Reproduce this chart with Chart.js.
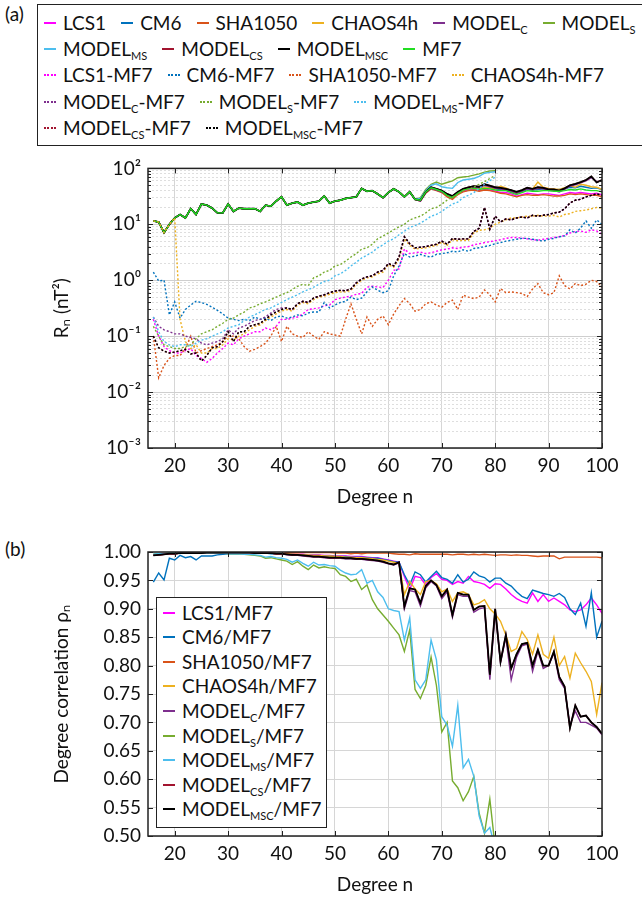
<!DOCTYPE html>
<html>
<head>
<meta charset="utf-8">
<title>Degree spectra and degree correlation</title>
<script src="https://cdn.jsdelivr.net/npm/chart.js@4.4.1/dist/chart.umd.min.js"></script>
<style>
  html, body { margin: 0; padding: 0; background: #fff; }
  body { width: 642px; height: 898px; position: relative; overflow: hidden; font-family: Lato, 'Noto Sans', sans-serif; color: #111; }
  .tag { position: absolute; left: 5px; font-size: 19px; }
  canvas { position: absolute; left: 0; }
  #legendA { position: absolute; left: 37px; top: 4px; width: 640px; height: 142px; border: 1.5px solid #222; box-sizing: border-box; font-size: 19px; }
  #legendA .row { position: absolute; left: 6px; display: flex; gap: 15px; white-space: nowrap; }
  #legendB { position: absolute; left: 156px; top: 597px; width: 171px; height: 231px; border: 1.5px solid #222; box-sizing: border-box; background: #fff; font-size: 19px; }
  #legendB .item { position: absolute; left: 6px; }
  .item { display: flex; align-items: center; line-height: 24px; }
  .swatch { width: 12px; height: 0; border-top: 2px solid; margin-right: 7px; }
  .dots { border-top-style: dotted; }
  .txt sub { font-size: 58%; vertical-align: -0.4em; line-height: 0; }
</style>
</head>
<body>
<div class="tag" style="top:2px">(a)</div>
<div id="legendA"></div>
<canvas id="spectra" width="642" height="360" style="top:150px"></canvas>
<div class="tag" style="top:537px">(b)</div>
<canvas id="correlation" width="642" height="368" style="top:530px"></canvas>
<div id="legendB"></div>
<script>
// degrees n = 16 ... 100
const firstDegree = 16;
const degreeTicks = [20, 30, 40, 50, 60, 70, 80, 90, 100];
const decadeExps = [-3, -2, -1, 0, 1, 2];
const decadeLabels = ['10\u207B\u00B3', '10\u207B\u00B2', '10\u207B\u00B9', '10\u2070', '10\u00B9', '10\u00B2'];
const corrTicks = [0.5, 0.55, 0.6, 0.65, 0.7, 0.75, 0.8, 0.85, 0.9, 0.95, 1.0];

const modelNames = [['LCS1', ''], ['CM6', ''], ['SHA1050', ''], ['CHAOS4h', ''], ['MODEL', 'C'],
  ['MODEL', 'S'], ['MODEL', 'MS'], ['MODEL', 'CS'], ['MODEL', 'MSC'], ['MF7', '']];
const modelColors = ['#ff00ff', '#0072bd', '#d95319', '#edb120', '#7e2f8e',
  '#77ac30', '#4dbeee', '#a2142f', '#000000', '#22dd22'];

// (a) R_n, solid curves: shared part n=16..65
const powerHead = [11.5, 11, 7.1, 10, 13, 15, 13, 19, 15, 23,
  22, 19.5, 16, 16, 23, 17, 19.5, 19, 19, 19,
  17, 22, 21, 26, 31, 22, 24, 25, 22, 24,
  25, 26, 32, 24, 26, 27, 29, 30, 31, 44,
  39, 40, 35, 30, 37, 43, 38, 31, 38, 28];
// n=66..100
const powerTailLcs1 = [27, 37, 44, 41, 38, 32, 29, 35, 39, 41, 42, 40, 42, 41, 39, 37, 37, 35, 32, 34,
  36, 35, 34, 35, 35, 34, 33, 35, 37, 36, 37, 36, 35, 36, 34];
const powerTailCm6 = [28, 38, 46, 43, 40, 34, 31, 37, 42, 44, 46, 44, 46, 45, 43, 42, 41, 39, 36, 39,
  42, 41, 42, 43, 42, 41, 42, 43, 46, 45, 48, 46, 44, 45, 42];
const powerTailSha = [26, 36, 43, 40, 37, 31, 28, 34, 38, 40, 41, 39, 41, 40, 38, 36, 35, 33, 31, 33,
  34, 33, 33, 34, 33, 32, 32, 33, 35, 34, 35, 34, 33, 33, 31];
const powerTailChaos = [27, 38, 46, 43, 40, 34, 31, 37, 42, 45, 46, 43, 46, 45, 43, 48, 45, 40, 36, 40,
  45, 43, 57, 46, 44, 43, 42, 45, 49, 46, 52, 50, 47, 46, 42];
const powerTailC = [26, 37, 44, 41, 38, 34, 31, 36, 41, 44, 46, 45, 50, 47, 44, 43, 41, 39, 36, 39,
  43, 41, 44, 43, 40, 40, 38, 42, 48, 51, 55, 60, 68, 58, 60];
const powerTailS = [30, 42, 52, 57, 52, 56, 60, 68, 70, 72, 76, 80, 86, 90, 91];
const powerTailMs = [29, 40, 50, 53, 47, 45, 44, 56, 62, 64, 66, 72, 82, 85, 87];
const powerTailMsc = [27, 38, 46, 43, 40, 35, 32, 38, 43, 46, 48, 47, 52, 49, 46, 45, 43, 41, 38, 41,
  45, 43, 46, 45, 42, 42, 40, 44, 50, 53, 57, 62, 72, 56, 62];
const powerTailMf7 = [27, 38, 45, 42, 39, 33, 30, 36, 41, 43, 44, 42, 44, 43, 41, 40, 40, 37, 34, 37,
  40, 39, 39, 40, 40, 39, 39, 40, 42, 41, 43, 41, 40, 40, 38];

// (a) differences to MF7, n=16..100
const diffLcs1 = [0.2, 0.1, 0.065, 0.055, 0.05, 0.05, 0.055, 0.06, 0.045, 0.04,
  0.034, 0.04, 0.05, 0.06, 0.075, 0.07, 0.09, 0.1, 0.11, 0.12,
  0.12, 0.14, 0.13, 0.15, 0.2, 0.2, 0.21, 0.22, 0.25, 0.3,
  0.31, 0.32, 0.35, 0.36, 0.45, 0.48, 0.5, 0.52, 0.56, 0.58,
  0.75, 0.78, 0.76, 0.74, 1.0, 1.5, 1.6, 3.6, 3.0, 3.1,
  3.2, 3.0, 3.1, 3.3, 3.5, 3.6, 3.8, 3.7, 3.9, 4.0,
  4.3, 4.5, 4.7, 4.9, 5.1, 5.3, 5.6, 5.8, 5.8, 5.7,
  5.5, 5.3, 5.2, 5.4, 5.6, 5.8, 6.0, 6.3, 7.0, 7.4,
  7.6, 7.2, 8.0, 7.6, 6.6];
const diffCm6 = [1.4, 0.97, 1.0, 0.24, 0.41, 0.21, 0.3, 0.36, 0.42, 0.4,
  0.37, 0.33, 0.29, 0.25, 0.21, 0.2, 0.19, 0.2, 0.19, 0.22,
  0.2, 0.21, 0.19, 0.22, 0.23, 0.21, 0.22, 0.24, 0.23, 0.26,
  0.27, 0.27, 0.4, 0.32, 0.36, 0.4, 0.42, 0.5, 0.45, 0.48,
  0.62, 0.76, 0.66, 0.6, 0.65, 1.2, 1.8, 3.0, 2.6, 2.7,
  2.9, 2.7, 2.6, 2.9, 3.0, 3.1, 3.3, 3.2, 3.5, 3.3,
  3.7, 3.8, 4.0, 4.2, 4.5, 4.7, 5.0, 5.2, 5.4, 5.6,
  5.6, 5.4, 5.2, 5.0, 5.4, 5.6, 6.0, 6.2, 8.0, 7.0,
  8.6, 11.5, 8.5, 12.0, 10.0];
const diffSha = [0.1, 0.018, 0.03, 0.04, 0.045, 0.045, 0.06, 0.1, 0.05, 0.055,
  0.06, 0.065, 0.07, 0.08, 0.1, 0.1, 0.09, 0.065, 0.054, 0.058,
  0.065, 0.075, 0.1, 0.15, 0.08, 0.15, 0.11, 0.1, 0.095, 0.12,
  0.1, 0.088, 0.12, 0.11, 0.105, 0.1, 0.2, 0.38, 0.2, 0.11,
  0.22, 0.15, 0.2, 0.23, 0.16, 0.25, 0.35, 0.47, 0.38, 0.28,
  0.3, 0.38, 0.41, 0.36, 0.33, 0.4, 0.44, 0.3, 0.54, 0.5,
  0.47, 0.5, 0.67, 0.55, 0.41, 0.71, 0.6, 0.62, 0.6, 0.58,
  0.51, 0.7, 0.87, 0.6, 0.55, 0.6, 1.2, 0.8, 0.7, 0.87,
  0.8, 0.85, 1.0, 0.95, 0.75];
const diffChaos = [11.5, 11, 7.1, 10, 13, 0.2, 0.08, 0.06, 0.07, 0.05,
  0.05, 0.06, 0.06, 0.07, 0.09, 0.085, 0.1, 0.11, 0.13, 0.15,
  0.16, 0.19, 0.22, 0.25, 0.28, 0.3, 0.28, 0.36, 0.4, 0.38,
  0.45, 0.5, 0.52, 0.56, 0.6, 0.62, 0.62, 0.66, 0.85, 1.0,
  1.1, 1.15, 1.3, 1.4, 1.9, 1.7, 2.4, 5.5, 4.2, 3.6,
  3.7, 3.8, 4.0, 4.2, 4.8, 4.2, 5.3, 5.1, 5.2, 5.2,
  7.0, 7.8, 8.0, 8.5, 10, 11, 12, 13, 13, 13.5,
  14, 14, 14.5, 14, 14, 14.5, 13.5, 15, 15.5, 17,
  17.5, 18, 19, 20, 19.5];
const diffHeadC = [0.22, 0.15, 0.13, 0.12, 0.11, 0.11, 0.1, 0.095, 0.09, 0.075,
  0.07, 0.075, 0.08, 0.09, 0.13, 0.11, 0.14, 0.15, 0.17, 0.19,
  0.2, 0.22, 0.26, 0.3, 0.32];
const diffHeadMsc = [0.1, 0.062, 0.054, 0.05, 0.052, 0.055, 0.058, 0.048, 0.05, 0.036,
  0.045, 0.062, 0.065, 0.08, 0.12, 0.08, 0.12, 0.12, 0.15, 0.16,
  0.17, 0.2, 0.24, 0.27, 0.3];
// n=41..100, shared by MODEL_C, MODEL_CS, MODEL_MSC
const diffTailMsc = [0.32, 0.3, 0.38, 0.42, 0.4, 0.48, 0.52, 0.55, 0.6, 0.64,
  0.66, 0.65, 0.7, 0.9, 1.05, 1.15, 1.2, 1.4, 1.5, 2.0,
  1.8, 2.6, 6.0, 4.5, 3.8, 3.9, 4.0, 4.2, 4.4, 5.0,
  4.4, 5.6, 5.4, 5.5, 5.5, 7.5, 8.5, 20, 8.2, 14,
  11, 12.5, 12, 13, 13.5, 13, 14.5, 14, 14.5, 15,
  16, 16.5, 19, 24, 27, 28, 31, 33, 35, 33];
// n=16..80
const diffS = [0.15, 0.1, 0.07, 0.065, 0.06, 0.06, 0.065, 0.07, 0.09, 0.11,
  0.12, 0.13, 0.15, 0.17, 0.2, 0.21, 0.24, 0.27, 0.32, 0.34,
  0.38, 0.41, 0.45, 0.5, 0.55, 0.6, 0.68, 0.78, 0.85, 0.8,
  1.1, 1.2, 1.4, 1.5, 1.8, 1.9, 2.2, 2.6, 3.0, 3.6,
  3.8, 4.4, 5.5, 6.2, 7.0, 8.0, 9.0, 10, 12, 13,
  14, 16, 19, 20, 23, 27, 31, 34, 40, 42,
  46, 52, 58, 66, 75];
const diffMs = [0.22, 0.12, 0.08, 0.07, 0.065, 0.07, 0.07, 0.065, 0.075, 0.085,
  0.09, 0.1, 0.11, 0.12, 0.14, 0.15, 0.16, 0.19, 0.22, 0.24,
  0.27, 0.3, 0.32, 0.36, 0.4, 0.45, 0.5, 0.55, 0.62, 0.68,
  0.75, 0.85, 0.95, 1.0, 1.2, 1.3, 1.5, 1.8, 2.1, 2.5,
  2.8, 3.2, 3.8, 4.3, 5.0, 5.5, 6.5, 7.5, 8.8, 9.5,
  10.5, 12, 14, 15, 17, 20, 23, 25, 30, 33,
  37, 44, 52, 60, 70];

// (b) degree correlation with MF7
const corrHead = [0.994, 0.995, 0.996, 0.997, 0.997, 0.998, 0.998, 0.998, 0.998, 0.998,
  0.999, 0.999, 0.999, 0.999, 0.999, 0.999, 0.999, 0.999, 0.999, 0.998,
  0.998, 0.998, 0.998, 0.997, 0.997];
const corrTailLcs1 = [0.997, 0.997, 0.996, 0.996, 0.995, 0.995, 0.995, 0.994, 0.994, 0.993,
  0.993, 0.993, 0.992, 0.992, 0.992, 0.991, 0.99, 0.99, 0.988, 0.986,
  0.984, 0.982, 0.957, 0.934, 0.957, 0.955, 0.942, 0.955, 0.962, 0.952,
  0.95, 0.943, 0.948, 0.945, 0.957, 0.948, 0.946, 0.943, 0.936, 0.944,
  0.943, 0.935, 0.925, 0.918, 0.913, 0.91, 0.928, 0.913, 0.925, 0.913,
  0.919, 0.913, 0.907, 0.898, 0.895, 0.898, 0.907, 0.919, 0.907, 0.892];
const corrCm6 = [0.947, 0.963, 0.951, 0.989, 0.986, 0.994, 0.99, 0.992, 0.986, 0.993,
  0.993, 0.993, 0.995, 0.996, 0.997, 0.997, 0.997, 0.998, 0.998, 0.998,
  0.998, 0.998, 0.997, 0.997, 0.997, 0.996, 0.996, 0.995, 0.995, 0.994,
  0.994, 0.994, 0.993, 0.993, 0.992, 0.992, 0.992, 0.991, 0.991, 0.991,
  0.99, 0.989, 0.989, 0.987, 0.985, 0.983, 0.982, 0.96, 0.942, 0.965,
  0.96, 0.947, 0.957, 0.966, 0.955, 0.952, 0.945, 0.96, 0.947, 0.952,
  0.965, 0.958, 0.955, 0.947, 0.954, 0.954, 0.945, 0.94, 0.93, 0.922,
  0.918, 0.933, 0.93, 0.927, 0.925, 0.922, 0.927, 0.92, 0.9, 0.89,
  0.91, 0.869, 0.928, 0.85, 0.878];
const corrTailSha = [0.999, 0.999, 0.999, 0.999, 0.999, 0.999, 0.999, 0.999, 0.999, 0.998,
  0.998, 0.998, 0.997, 0.998, 0.997, 0.998, 0.998, 0.998, 0.998, 0.998,
  0.997, 0.996, 0.996, 0.995, 0.997, 0.996, 0.996, 0.996, 0.996, 0.996,
  0.996, 0.995, 0.996, 0.996, 0.995, 0.996, 0.995, 0.996, 0.995, 0.994,
  0.995, 0.995, 0.994, 0.995, 0.994, 0.994, 0.993, 0.992, 0.993, 0.993,
  0.993, 0.988, 0.991, 0.991, 0.991, 0.991, 0.991, 0.991, 0.991, 0.99];
const corrTailChaos = [0.997, 0.996, 0.996, 0.995, 0.995, 0.994, 0.994, 0.993, 0.993, 0.992,
  0.992, 0.991, 0.991, 0.99, 0.99, 0.989, 0.988, 0.987, 0.986, 0.984,
  0.982, 0.98, 0.925, 0.948, 0.935, 0.925, 0.948, 0.95, 0.944, 0.93,
  0.935, 0.913, 0.928, 0.93, 0.925, 0.907, 0.91, 0.916, 0.9, 0.891,
  0.878, 0.854, 0.825, 0.83, 0.86, 0.846, 0.82, 0.854, 0.82, 0.813,
  0.85, 0.8, 0.816, 0.778, 0.822, 0.805, 0.79, 0.772, 0.714, 0.77];
const corrTailC = [0.995, 0.994, 0.994, 0.993, 0.992, 0.991, 0.991, 0.99, 0.989, 0.989,
  0.989, 0.988, 0.988, 0.987, 0.987, 0.986, 0.985, 0.984, 0.982, 0.979,
  0.977, 0.981, 0.9, 0.932, 0.93, 0.905, 0.937, 0.948, 0.94, 0.918,
  0.93, 0.885, 0.925, 0.922, 0.922, 0.894, 0.9, 0.902, 0.775, 0.896,
  0.805, 0.85, 0.775, 0.815, 0.835, 0.838, 0.79, 0.825, 0.795, 0.8,
  0.822, 0.775, 0.76, 0.695, 0.72, 0.7, 0.7, 0.695, 0.69, 0.678];
const corrTailMsc = [0.996, 0.995, 0.995, 0.994, 0.993, 0.992, 0.992, 0.991, 0.99, 0.99,
  0.99, 0.989, 0.989, 0.988, 0.988, 0.987, 0.986, 0.985, 0.983, 0.98,
  0.978, 0.982, 0.904, 0.936, 0.934, 0.91, 0.94, 0.95, 0.942, 0.922,
  0.934, 0.889, 0.928, 0.925, 0.925, 0.898, 0.904, 0.905, 0.784, 0.9,
  0.807, 0.854, 0.795, 0.82, 0.838, 0.84, 0.8, 0.828, 0.8, 0.8,
  0.825, 0.78, 0.763, 0.69, 0.73, 0.71, 0.712, 0.7, 0.692, 0.68];
// MODEL_S / MODEL_MS: n=16..33 shared, then n=34..80
const corrHeadSM = [0.996, 0.997, 0.997, 0.998, 0.998, 0.998, 0.998, 0.998, 0.998, 0.998,
  0.998, 0.998, 0.998, 0.998, 0.997, 0.997, 0.997, 0.996];
const corrTailS = [0.995, 0.994, 0.993, 0.989, 0.99, 0.988, 0.986, 0.984, 0.978, 0.983,
  0.975, 0.969, 0.977, 0.972, 0.974, 0.972, 0.971, 0.96, 0.957, 0.948,
  0.952, 0.934, 0.942, 0.916, 0.9, 0.889, 0.878, 0.866, 0.854, 0.825,
  0.863, 0.758, 0.742, 0.765, 0.815, 0.765, 0.683, 0.7, 0.597, 0.585,
  0.562, 0.578, 0.605, 0.54, 0.505, 0.565, 0.48];
const corrTailMs = [0.996, 0.995, 0.994, 0.991, 0.992, 0.99, 0.989, 0.987, 0.982, 0.986,
  0.98, 0.975, 0.982, 0.977, 0.978, 0.976, 0.975, 0.968, 0.963, 0.96,
  0.961, 0.969, 0.945, 0.95, 0.93, 0.92, 0.9, 0.897, 0.895, 0.845,
  0.884, 0.775, 0.76, 0.775, 0.845, 0.81, 0.71, 0.695, 0.658, 0.73,
  0.62, 0.635, 0.605, 0.535, 0.505, 0.515, 0.48];

const powerSeries = [
  powerHead.concat(powerTailLcs1), powerHead.concat(powerTailCm6), powerHead.concat(powerTailSha),
  powerHead.concat(powerTailChaos), powerHead.concat(powerTailC), powerHead.concat(powerTailS),
  powerHead.concat(powerTailMs), powerHead.concat(powerTailMsc), powerHead.concat(powerTailMsc),
  powerHead.concat(powerTailMf7)];
const diffSeries = [diffLcs1, diffCm6, diffSha, diffChaos, diffHeadC.concat(diffTailMsc), diffS, diffMs,
  diffHeadMsc.concat(diffTailMsc), diffHeadMsc.concat(diffTailMsc)];
const corrSeries = [corrHead.concat(corrTailLcs1), corrCm6, corrHead.concat(corrTailSha),
  corrHead.concat(corrTailChaos), corrHead.concat(corrTailC), corrHeadSM.concat(corrTailS),
  corrHeadSM.concat(corrTailMs), corrHead.concat(corrTailMsc), corrHead.concat(corrTailMsc)];

const font = { family: "Lato, 'Noto Sans', sans-serif", size: 19 };
const axisColor = '#222';

function points(values) {
  return values.map((v, i) => ({ x: firstDegree + i, y: v }));
}
function nameHtml(name) {
  return name[1] ? name[0] + '<sub>' + name[1] + '</sub>' : name[0];
}
function isDecade(v) {
  const l = Math.log10(v);
  return Math.abs(l - Math.round(l)) < 1e-6;
}

// inward tick marks and the box around the plot
const framePlugin = {
  id: 'frame',
  afterDatasetsDraw(chart) {
    const { ctx, chartArea: a, scales: { x, y } } = chart;
    ctx.save();
    ctx.strokeStyle = axisColor;
    ctx.lineWidth = 1;
    ctx.beginPath();
    x.ticks.forEach(t => {
      const px = Math.round(x.getPixelForValue(t.value)) + 0.5;
      ctx.moveTo(px, a.bottom); ctx.lineTo(px, a.bottom - 5);
      ctx.moveTo(px, a.top); ctx.lineTo(px, a.top + 5);
    });
    y.ticks.forEach(t => {
      const py = Math.round(y.getPixelForValue(t.value)) + 0.5;
      const len = (y.type !== 'logarithmic' || isDecade(t.value)) ? 5 : 3;
      ctx.moveTo(a.left, py); ctx.lineTo(a.left + len, py);
      ctx.moveTo(a.right, py); ctx.lineTo(a.right - len, py);
    });
    ctx.stroke();
    ctx.lineWidth = 1.5;
    ctx.strokeRect(a.left, a.top, a.right - a.left, a.bottom - a.top);
    ctx.restore();
  }
};

function xScale() {
  return {
    type: 'linear', min: 15, max: 100,
    afterBuildTicks: s => { s.ticks = degreeTicks.map(v => ({ value: v })); },
    afterFit: s => { s.height = 62; },
    ticks: { font, color: '#111', padding: 6, maxRotation: 0 },
    grid: { color: '#d6d6d6', drawTicks: false },
    border: { display: false },
    title: { display: true, text: 'Degree n', font, color: '#111', padding: { top: 0, bottom: 2 } }
  };
}

// (a) spectra
const spectraSets = [];
powerSeries.forEach((vals, i) => spectraSets.push({
  label: modelNames[i].join(''), data: points(vals), borderColor: modelColors[i],
  borderWidth: i === 8 ? 1.8 : 1.4
}));
diffSeries.forEach((vals, i) => spectraSets.push({
  label: modelNames[i].join('') + '-MF7', data: points(vals), borderColor: modelColors[i],
  borderWidth: 1.4, borderDash: [2, 2]
}));
spectraSets.forEach((d, i) => { d.order = -i; d.pointRadius = 0; d.tension = 0; d.fill = false; });

new Chart(document.getElementById('spectra'), {
  type: 'line',
  data: { datasets: spectraSets },
  options: {
    responsive: false, animation: false, events: [],
    layout: { padding: { top: 15, right: 40, left: 0, bottom: 0 } },
    plugins: { legend: { display: false }, tooltip: { enabled: false } },
    scales: {
      x: xScale(),
      y: {
        type: 'logarithmic', min: 1e-3, max: 1e2,
        afterBuildTicks: s => {
          const t = [];
          decadeExps.forEach(e => {
            for (let m = 1; m < 10; m++) {
              if (e === 2 && m > 1) break;
              t.push({ value: m * Math.pow(10, e) });
            }
          });
          s.ticks = t;
        },
        afterFit: s => { s.width = 148; },
        ticks: {
          font, color: '#111', padding: 7, autoSkip: false,
          callback: v => isDecade(v) ? decadeLabels[decadeExps.indexOf(Math.round(Math.log10(v)))] : ''
        },
        grid: { color: c => (c.tick && isDecade(c.tick.value)) ? '#cfcfcf' : '#dedede', drawTicks: false },
        border: { display: false, dash: c => (c.tick && !isDecade(c.tick.value)) ? [2, 2] : [] },
        title: { display: true, text: 'R\u2099 (nT\u00B2)', font, color: '#111', padding: { top: 50, bottom: 0 } }
      }
    }
  },
  plugins: [framePlugin]
});

// (b) degree correlation
const corrSets = corrSeries.map((vals, i) => ({
  label: modelNames[i].join('') + '/MF7', data: points(vals), borderColor: modelColors[i],
  borderWidth: i === 8 ? 1.8 : 1.4, order: -i, pointRadius: 0, tension: 0, fill: false
}));

new Chart(document.getElementById('correlation'), {
  type: 'line',
  data: { datasets: corrSets },
  options: {
    responsive: false, animation: false, events: [],
    layout: { padding: { top: 22, right: 40, left: 0, bottom: 0 } },
    plugins: { legend: { display: false }, tooltip: { enabled: false } },
    scales: {
      x: xScale(),
      y: {
        type: 'linear', min: 0.5, max: 1.0,
        afterBuildTicks: s => { s.ticks = corrTicks.map(v => ({ value: v })); },
        afterFit: s => { s.width = 148; },
        ticks: { font, color: '#111', padding: 7, autoSkip: false, callback: v => v.toFixed(2) },
        grid: { color: '#d6d6d6', drawTicks: false },
        border: { display: false },
        title: { display: true, text: 'Degree correlation \u03C1\u2099', font, color: '#111', padding: { top: 50, bottom: 0 } }
      }
    }
  },
  plugins: [framePlugin]
});

// HTML legends (subscripted names)
const legendRowsA = [[0, 1, 2, 3, 4, 5], [6, 7, 8, 9], [10, 11, 12, 13], [14, 15, 16], [17, 18]];
const legendA = document.getElementById('legendA');
legendRowsA.forEach((row, r) => {
  const div = document.createElement('div');
  div.className = 'row';
  div.style.top = (6 + 26.2 * r) + 'px';
  row.forEach(k => {
    const diff = k >= 10;
    const m = diff ? k - 10 : k;
    div.innerHTML += '<span class="item"><span class="swatch' + (diff ? ' dots' : '') +
      '" style="border-color:' + modelColors[m] + '"></span><span class="txt">' +
      nameHtml(modelNames[m]) + (diff ? '-MF7' : '') + '</span></span>';
  });
  legendA.appendChild(div);
});
const legendB = document.getElementById('legendB');
modelNames.slice(0, 9).forEach((name, i) => {
  const div = document.createElement('div');
  div.className = 'item';
  div.style.top = (2.5 + 24.6 * i) + 'px';
  div.innerHTML = '<span class="swatch" style="border-color:' + modelColors[i] + '"></span><span class="txt">' +
    nameHtml(name) + '/MF7</span>';
  legendB.appendChild(div);
});
</script>
</body>
</html>
